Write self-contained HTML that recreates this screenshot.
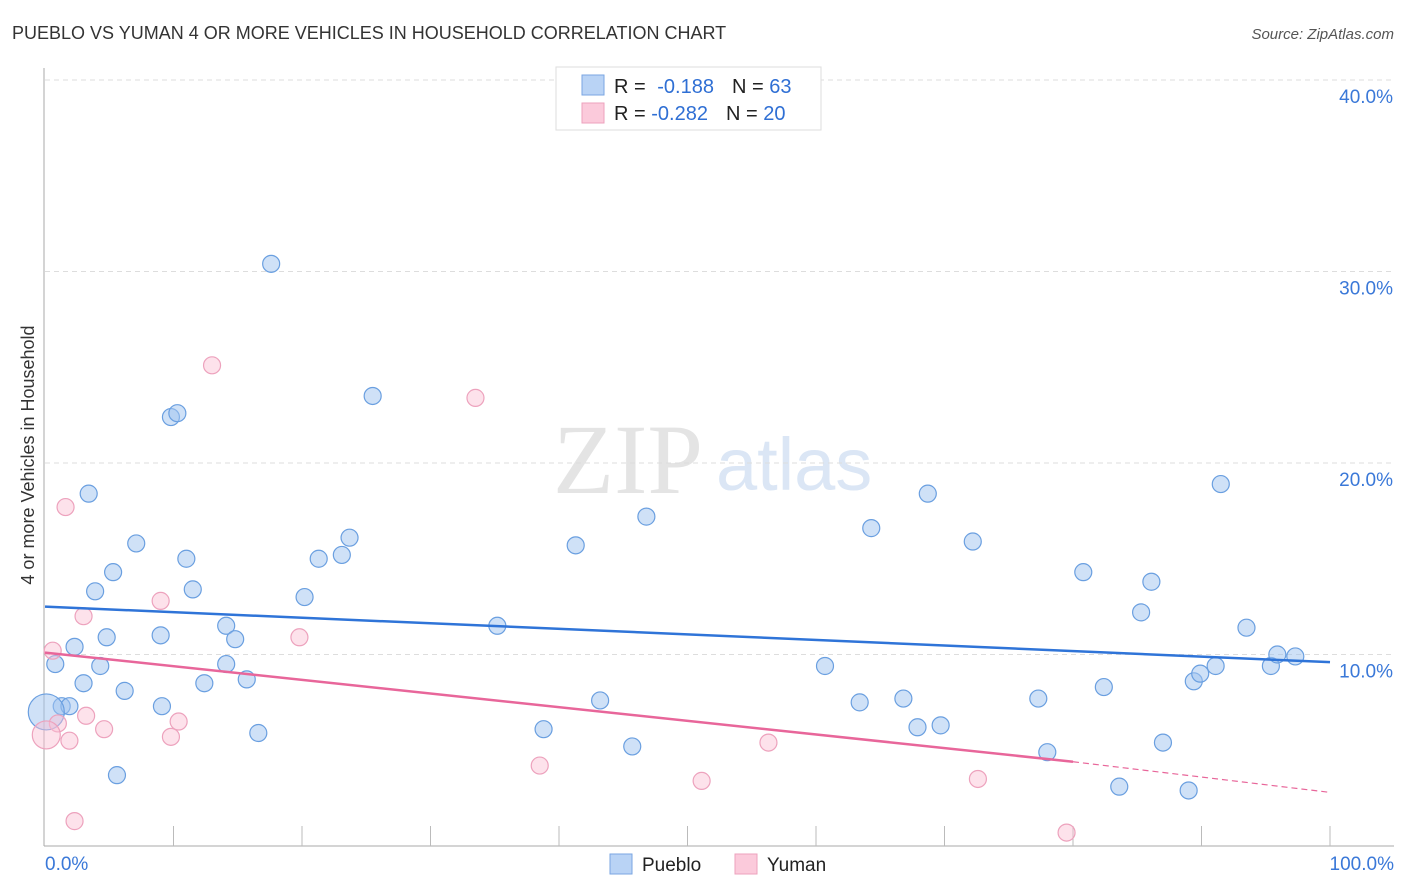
<!DOCTYPE html>
<html><head><meta charset="utf-8">
<style>
body{margin:0;background:#fff;font-family:"Liberation Sans",sans-serif;}
svg{display:block}
</style></head>
<body>
<svg id="chart" width="1406" height="892">
<text x="12" y="39" font-size="18" fill="#333">PUEBLO VS YUMAN 4 OR MORE VEHICLES IN HOUSEHOLD CORRELATION CHART</text>
<text x="1394" y="39" font-size="15" fill="#555" font-style="italic" text-anchor="end">Source: ZipAtlas.com</text>
<text x="553" y="493" font-size="100" fill="#e4e4e4" font-family="Liberation Serif,serif">ZIP</text>
<text x="716" y="490" font-size="74" fill="#dbe6f5">atlas</text>
<text transform="translate(34,455) rotate(-90)" font-size="18" fill="#333" text-anchor="middle">4 or more Vehicles in Household</text>
<g id="grid"></g><g id="pts"></g><g id="lines"></g>
<g>
<rect x="556" y="67" width="265" height="63" fill="#fff" stroke="#ddd"/>
<rect x="582" y="75" width="22" height="20" fill="#b9d3f5" stroke="#7aa6e2"/>
<rect x="582" y="103" width="22" height="20" fill="#fbcadb" stroke="#eda2bd"/>
<text x="614" y="93" font-size="20" fill="#222">R = <tspan fill="#2f6fd4" dx="6">-0.188</tspan><tspan fill="#222" dx="18">N = </tspan><tspan fill="#2f6fd4">63</tspan></text>
<text x="614" y="120" font-size="20" fill="#222">R = <tspan fill="#2f6fd4">-0.282</tspan><tspan fill="#222" dx="18">N = </tspan><tspan fill="#2f6fd4">20</tspan></text>
</g>
<g>
<rect x="610" y="854" width="22" height="20" fill="#b9d3f5" stroke="#7aa6e2"/>
<text x="642" y="871" font-size="19" fill="#222">Pueblo</text>
<rect x="735" y="854" width="22" height="20" fill="#fbcadb" stroke="#eda2bd"/>
<text x="767" y="871" font-size="19" fill="#222">Yuman</text>
</g>
</svg>
<script>
const yTicks=[10,20,30,40];
const yTickLabels=["10.0%","20.0%","30.0%","40.0%"];
const xLabels=["0.0%","100.0%"];
const puebloX=[17.6,25.5,9.8,10.3,3.4,7.1,5.3,3.9,11,11.5,4.8,2.3,0.8,4.3,3,1.3,1.9,6.2,9,9.1,5.6,14.1,14.8,14.1,12.4,15.7,16.6,20.2,21.3,23.1,23.7,35.2,41.3,46.8,43.2,38.8,45.7,60.7,64.3,63.4,66.8,68.7,67.9,69.7,72.2,77.3,78,80.8,82.4,83.6,85.3,86.1,87,89,89.4,89.9,91.1,91.5,93.5,95.4,95.9,97.3,0.1];
const puebloY=[30.4,23.5,22.4,22.6,18.4,15.8,14.3,13.3,15,13.4,10.9,10.4,9.5,9.4,8.5,7.3,7.3,8.1,11,7.3,3.7,11.5,10.8,9.5,8.5,8.7,5.9,13.0,15,15.2,16.1,11.5,15.7,17.2,7.6,6.1,5.2,9.4,16.6,7.5,7.7,18.4,6.2,6.3,15.9,7.7,4.9,14.3,8.3,3.1,12.2,13.8,5.4,2.9,8.6,9,9.4,18.9,11.4,9.4,10,9.9,7.0];
const yumanX=[13,33.5,1.6,3,9,19.8,0.6,1,3.2,1.9,4.6,9.8,10.4,2.3,38.5,51.1,56.3,72.6,79.5,0.1];
const yumanY=[25.1,23.4,17.7,12,12.8,10.9,10.2,6.4,6.8,5.5,6.1,5.7,6.5,1.3,4.2,3.4,5.4,3.5,0.7,5.8];
const blueLine=[12.5,9.6];
const pinkLine=[10.1,4.4,2.8];
const X=v=>45+v*12.85, Y=v=>846-v*19.15;
const NS="http://www.w3.org/2000/svg";
function mk(parent,tag,attrs){const e=document.createElementNS(NS,tag);for(const k in attrs)e.setAttribute(k,attrs[k]);document.getElementById(parent).appendChild(e);return e;}
yTicks.forEach((t,i)=>{
 const l=mk('grid','line',{x1:45,x2:1394,y1:Y(t),y2:Y(t),stroke:'#ddd','stroke-dasharray':'5,4'});
 
 
 const tx=mk('grid','text',{x:1393,y:Y(t)+23,'font-size':19,fill:'#3a78d8','text-anchor':'end'});tx.textContent=yTickLabels[i];
 
 
});
let a=mk('grid','line',{x1:44,x2:44,y1:68,y2:846,stroke:'#aaa'});


a=mk('grid','line',{x1:44,x2:1394,y1:846,y2:846,stroke:'#aaa'});


for(let i=1;i<=10;i++){const t=mk('grid','line',{x1:X(i*10),x2:X(i*10),y1:826,y2:846,stroke:'#bbb'});
 
 }
let t1=mk('grid','text',{x:45,y:870,'font-size':19,fill:'#3a78d8'});t1.textContent=xLabels[0];


let t2=mk('grid','text',{x:1394,y:870,'font-size':19,fill:'#3a78d8','text-anchor':'end'});t2.textContent=xLabels[1];


puebloX.forEach((x,i)=>{const big=i===puebloX.length-1;
 const c=mk('pts','circle',{cx:X(x),cy:Y(puebloY[i]),r:big?18:8.5,fill:'rgba(160,196,240,0.5)',stroke:'#6a9fe0','stroke-width':1.2});
 
 });
yumanX.forEach((x,i)=>{const big=i===yumanX.length-1;
 const c=mk('pts','circle',{cx:X(x),cy:Y(yumanY[i]),r:big?14:8.5,fill:'rgba(250,190,210,0.45)',stroke:'#eda2bd','stroke-width':1.2});
 
 });
let l=mk('lines','line',{x1:X(0),y1:Y(blueLine[0]),x2:X(100),y2:Y(blueLine[1]),stroke:'#2f74d8','stroke-width':2.5});


l=mk('lines','line',{x1:X(0),y1:Y(pinkLine[0]),x2:X(80),y2:Y(pinkLine[1]),stroke:'#e8669a','stroke-width':2.5});


l=mk('lines','line',{x1:X(80),y1:Y(pinkLine[1]),x2:X(100),y2:Y(pinkLine[2]),stroke:'#e8669a','stroke-width':1.2,'stroke-dasharray':'6,4'});


</script>
</body></html>
